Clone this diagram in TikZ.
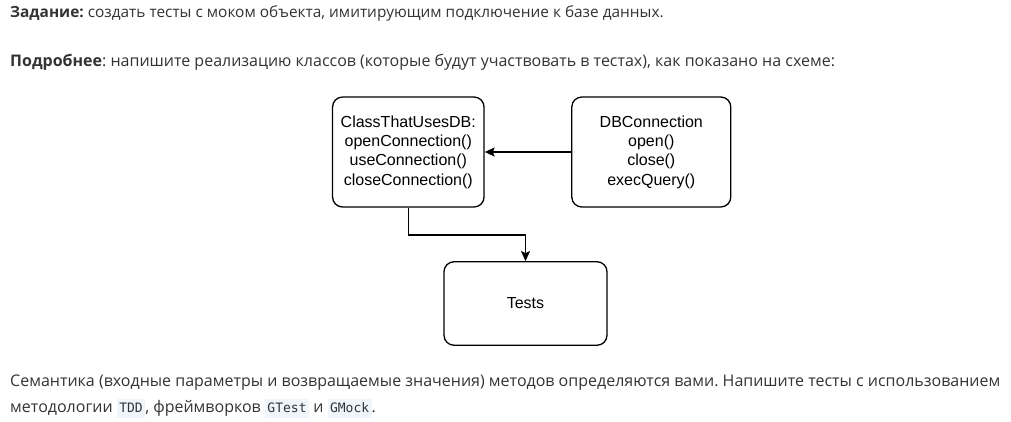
\documentclass[tikz,border=0pt]{standalone}
\usepackage{fontspec}
\setmainfont{Open Sans}
\setmonofont{DejaVu Sans Mono}
\newfontfamily\diafont{Liberation Sans}
\usetikzlibrary{arrows.meta}
\definecolor{txt}{HTML}{333333}
\definecolor{codebg}{HTML}{EEF5FB}
\frenchspacing
\newcommand{\codespan}[1]{{\setlength\fboxsep{0pt}\colorbox{codebg}{\rule[-6pt]{0pt}{19pt}\hspace{2.5pt}{\ttfamily\fontsize{13pt}{15pt}\selectfont #1}\hspace{2.5pt}}}}
\tikzset{
  para/.style={anchor=base west, inner sep=0pt, text=txt, font=\frenchspacing\fontsize{16pt}{19pt}\selectfont},
  box/.style={draw=black, line width=1.3pt, rounded corners=10pt, align=center,
    font=\diafont\fontsize{16pt}{19.3pt}\selectfont, inner sep=0pt},
  arr/.style={line width=1.3pt, -{Stealth[length=10pt,width=9pt,inset=2pt]}}
}
\begin{document}
\begin{tikzpicture}[x=1pt,y=-1pt]
\useasboundingbox (0,0) rectangle (1011,421);
\node[para, font=\frenchspacing\fontsize{15.4pt}{19pt}\selectfont] (t1) at (10,17.3) {\textbf{Задание:} создать тесты с моком объекта, имитирующим подключение к базе данных.};
\node[para] (t2) at (10,66.5) {\textbf{Подробнее}: напишите реализацию классов (которые будут участвовать в тестах), как показано на схеме:};
\node[box, minimum width=151.5pt, minimum height=110pt] (L) at (408.3,152) {ClassThatUsesDB:\\openConnection()\\useConnection()\\closeConnection()};
\node[box, minimum width=159pt, minimum height=110pt] (R) at (651.3,152) {DBConnection\\open()\\close()\\execQuery()};
\node[box, minimum width=163pt, minimum height=83.5pt] (T) at (525.5,303.5) {Tests};
\draw[arr] (R.west) -- (L.east);
\draw[arr] (L.south) -- ++(0,27.3) -| (T.north);
\node[para] (b1) at (10,386) {Семантика (входные параметры и возвращаемые значения) методов определяются вами. Напишите тесты с использованием};
\node[para] (b2) at (10,412) {методологии \codespan{TDD}, фреймворков \codespan{GTest} и \codespan{GMock}.};
\end{tikzpicture}
\end{document}
